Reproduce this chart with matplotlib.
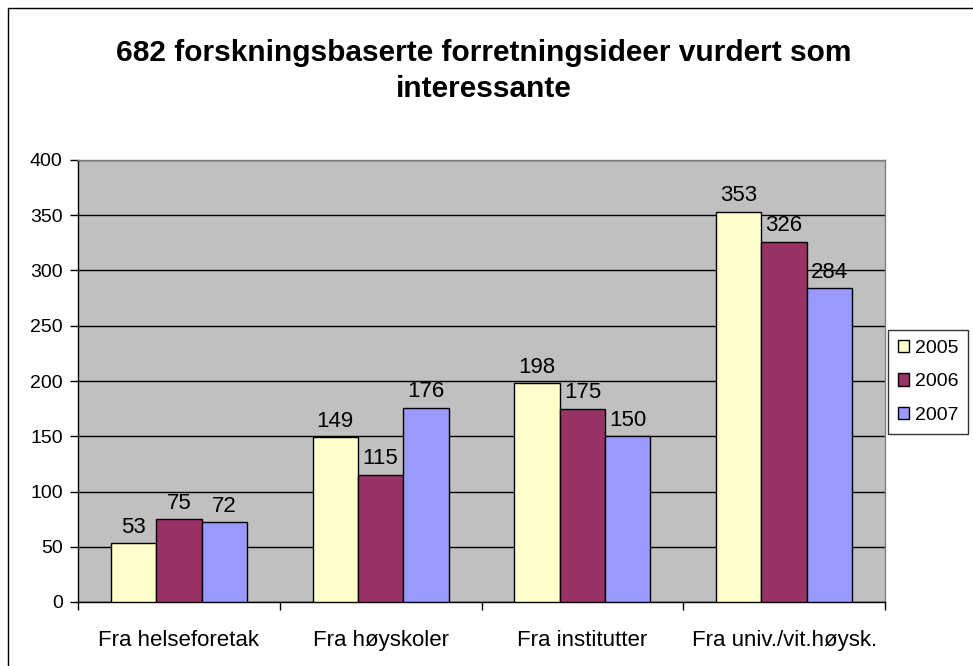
import matplotlib.pyplot as plt
import numpy as np
from matplotlib.patches import Rectangle

# data
kategorier = ['Fra helseforetak', 'Fra høyskoler', 'Fra institutter', 'Fra univ./vit.høysk.']
aar = ['2005', '2006', '2007']
v2005 = [53, 149, 198, 353]
v2006 = [75, 115, 175, 326]
v2007 = [72, 176, 150, 284]
farger = ['#FFFFCC', '#993366', '#9999FF']

plt.rcParams['font.family'] = ['Liberation Sans', 'DejaVu Sans']

fig = plt.figure(figsize=(9.73, 6.66), dpi=100)
ax = fig.add_axes([78 / 973, 64 / 666, 807 / 973, 442 / 666])
ax.set_facecolor('#C0C0C0')

x = np.arange(len(kategorier)) + 0.5
w = 0.225
for i, (verdier, farge, lab) in enumerate(zip([v2005, v2006, v2007], farger, aar)):
    pos = x + (i - 1) * w
    ax.bar(pos, verdier, width=w, color=farge, edgecolor='black', linewidth=1, label=lab, zorder=3)
    for p, v in zip(pos, verdier):
        ax.annotate(str(v), (p, v), xytext=(0, 4), textcoords='offset points',
                    ha='center', va='bottom', fontsize=16, zorder=4)

ax.set_xlim(0, 4)
ax.set_ylim(0, 400)
ax.set_yticks(range(0, 401, 50))
ax.set_xticks([0, 1, 2, 3, 4])
ax.set_xticklabels([])
ax.set_xticks(x, minor=True)
ax.set_xticklabels(kategorier, minor=True, fontsize=16)
ax.tick_params(axis='x', which='minor', length=0, pad=20)
ax.tick_params(axis='x', which='major', direction='out', length=6, width=1)
ax.tick_params(axis='y', direction='out', length=6, width=1, labelsize=14, pad=5)
ax.yaxis.grid(True, color='black', linewidth=1, zorder=0)
ax.set_axisbelow(True)
ax.spines['top'].set_color('#808080')
ax.spines['right'].set_color('#808080')
for s in ax.spines.values():
    s.set_linewidth(1)

fig.text(0.497, 0.893, '682 forskningsbaserte forretningsideer vurdert som\ninteressante',
         ha='center', va='center', fontsize=21.5, fontweight='bold', linespacing=1.35)

leg = fig.legend(loc='upper left', bbox_to_anchor=(888 / 973, 1 - 330 / 666), fontsize=14,
                 frameon=True, fancybox=False, edgecolor='black', handlelength=0.6,
                 handleheight=0.6, handletextpad=0.3, labelspacing=0.85, borderpad=0.5,
                 borderaxespad=0)
leg.get_frame().set_linewidth(1)

fig.patches.append(Rectangle((8 / 973, -0.1), 1.2, 1 - 8 / 666 + 0.1, transform=fig.transFigure,
                             fill=False, edgecolor='black', linewidth=1))

fig.savefig('out.png', dpi=100)
